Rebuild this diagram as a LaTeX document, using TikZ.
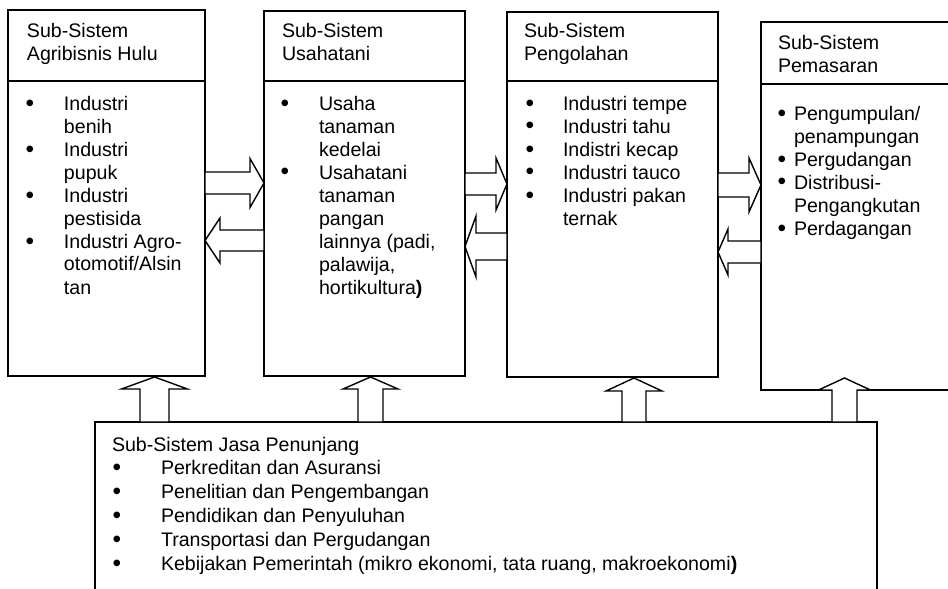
\documentclass[tikz,border=0pt]{standalone}
\usepackage{fontspec}
\setmainfont{Liberation Sans}
\usepackage{graphicx}
\usetikzlibrary{calc}
\newcommand\bul{\makebox[0pt]{\raisebox{-1pt}{\scalebox{1.25}{\textbullet}}}}
\tikzset{
  sysbox/.style={draw, line width=1.6pt, inner sep=0pt, outer sep=0pt, anchor=north west},
  divider/.style={line width=1.6pt},
  blockarrow/.style={draw, fill=white, line width=1.4pt, line join=miter},
  txt/.style={inner sep=0pt, outer sep=0pt, anchor=base west, font=\fontsize{19.6}{23}\selectfont},
  txtb/.style={txt, font=\fontsize{19.6}{23.8}\selectfont},
}
% right-pointing block arrow from #1.east to #2.west at height #3
\newcommand\rblock[6]{%
  \draw[blockarrow] ($(#1.east |- 0,#3)+(0,-#4)$) -- ($(#2.west |- 0,#3)+(-#6,-#4)$)
    -- ($(#2.west |- 0,#3)+(-#6,-#5)$) -- (#2.west |- 0,#3)
    -- ($(#2.west |- 0,#3)+(-#6,#5)$) -- ($(#2.west |- 0,#3)+(-#6,#4)$)
    -- ($(#1.east |- 0,#3)+(0,#4)$) -- cycle;}
% left-pointing block arrow from #1.west to #2.east at height #3
\newcommand\lblock[6]{%
  \draw[blockarrow] ($(#1.west |- 0,#3)+(0,-#4)$) -- ($(#2.east |- 0,#3)+(#6,-#4)$)
    -- ($(#2.east |- 0,#3)+(#6,-#5)$) -- (#2.east |- 0,#3)
    -- ($(#2.east |- 0,#3)+(#6,#5)$) -- ($(#2.east |- 0,#3)+(#6,#4)$)
    -- ($(#1.west |- 0,#3)+(0,#4)$) -- cycle;}
% upward block arrow from #1.north to #2.south at x #3
\newcommand\ublock[7]{%
  \coordinate (tip-#2) at ($(#3,0 |- #2.south)+(0,#7)$);
  \draw[blockarrow] ($(#3,0 |- #1.north)+(-#4,0)$) -- ($(tip-#2)+(-#4,#6)$)
    -- ($(tip-#2)+(-#5,#6)$) -- (tip-#2) -- ($(tip-#2)+(#5,#6)$)
    -- ($(tip-#2)+(#4,#6)$) -- ($(#3,0 |- #1.north)+(#4,0)$) -- cycle;}
\begin{document}
\begin{tikzpicture}[x=1pt, y=-1pt]
\useasboundingbox (0,0) rectangle (948,589);
\fill[white] (0,0) rectangle (948,589);

% boxes
\node[sysbox, minimum width=197pt, minimum height=366pt] (b1) at (8,10) {};
\node[sysbox, minimum width=201pt, minimum height=365pt] (b2) at (264,11) {};
\node[sysbox, minimum width=211pt, minimum height=365pt] (b3) at (507,12) {};
\node[sysbox, minimum width=210pt, minimum height=368pt] (b4) at (761,22) {};
\node[sysbox, minimum width=782pt, minimum height=190pt] (jp) at (95,422) {};

\draw[divider] (b1.west |- 0,81) -- (b1.east |- 0,81);
\draw[divider] (b2.west |- 0,81) -- (b2.east |- 0,81);
\draw[divider] (b3.west |- 0,81) -- (b3.east |- 0,81);
\draw[divider] (b4.west |- 0,84) -- (b4.east |- 0,84);

% horizontal block arrows
\rblock{b1}{b2}{183}{11}{24.5}{14}
\lblock{b2}{b1}{240.5}{10.5}{22.5}{15}
\rblock{b2}{b3}{184}{11}{26}{11}
\lblock{b3}{b2}{246.5}{13.5}{30.5}{11}
\rblock{b3}{b4}{185}{12}{27}{12}
\lblock{b4}{b3}{252}{11}{23}{10}

% vertical block arrows
\ublock{jp}{b1}{154.5}{14.5}{33}{12}{1}
\ublock{jp}{b2}{370.5}{12.5}{27.5}{12}{1}
\ublock{jp}{b3}{634}{12}{28}{13}{1}
\ublock{jp}{b4}{844.5}{12.5}{26}{12}{-12}

% headers
\node[txt] (h1) at (27,37) {\begin{tabular}[t]{@{}l@{}}Sub-Sistem\\Agribisnis Hulu\end{tabular}};
\node[txt] (h2) at (282,37) {\begin{tabular}[t]{@{}l@{}}Sub-Sistem\\Usahatani\end{tabular}};
\node[txt] (h3) at (524,37) {\begin{tabular}[t]{@{}l@{}}Sub-Sistem\\Pengolahan\end{tabular}};
\node[txt] (h4) at (778,49) {\begin{tabular}[t]{@{}l@{}}Sub-Sistem\\Pemasaran\end{tabular}};
\node[txtb] (h5) at (112,451) {Sub-Sistem Jasa Penunjang};

% lists
\node[txt] (l1) at (30,110) {\begin{tabular}[t]{@{}p{34pt}@{}l@{}}
\bul & Industri\\ & benih\\
\bul & Industri\\ & pupuk\\
\bul & Industri\\ & pestisida\\
\bul & Industri Agro-\\ & otomotif/Alsin\\ & tan
\end{tabular}};
\node[txt] (l2) at (285,110) {\begin{tabular}[t]{@{}p{34pt}@{}l@{}}
\bul & Usaha\\ & tanaman\\ & kedelai\\
\bul & Usahatani\\ & tanaman\\ & pangan\\ & lainnya (padi,\\ & palawija,\\ & hortikultura\textbf{)}
\end{tabular}};
\node[txt] (l3) at (530,110) {\begin{tabular}[t]{@{}p{33pt}@{}l@{}}
\bul & Industri tempe\\
\bul & Industri tahu\\
\bul & Indistri kecap\\
\bul & Industri tauco\\
\bul & Industri pakan\\ & ternak
\end{tabular}};
\node[txt] (l4) at (782,120) {\begin{tabular}[t]{@{}p{12pt}@{}l@{}}
\bul & Pengumpulan/\\ & penampungan\\
\bul & Pergudangan\\
\bul & Distribusi-\\ & Pengangkutan\\
\bul & Perdagangan
\end{tabular}};
\node[txtb] (l5) at (117,474.8) {\begin{tabular}[t]{@{}p{44pt}@{}l@{}}
\bul & Perkreditan dan Asuransi\\
\bul & Penelitian dan Pengembangan\\
\bul & Pendidikan dan Penyuluhan\\
\bul & Transportasi dan Pergudangan\\
\bul & Kebijakan Pemerintah (mikro ekonomi, tata ruang, makroekonomi\textbf{)}
\end{tabular}};
\end{tikzpicture}
\end{document}
